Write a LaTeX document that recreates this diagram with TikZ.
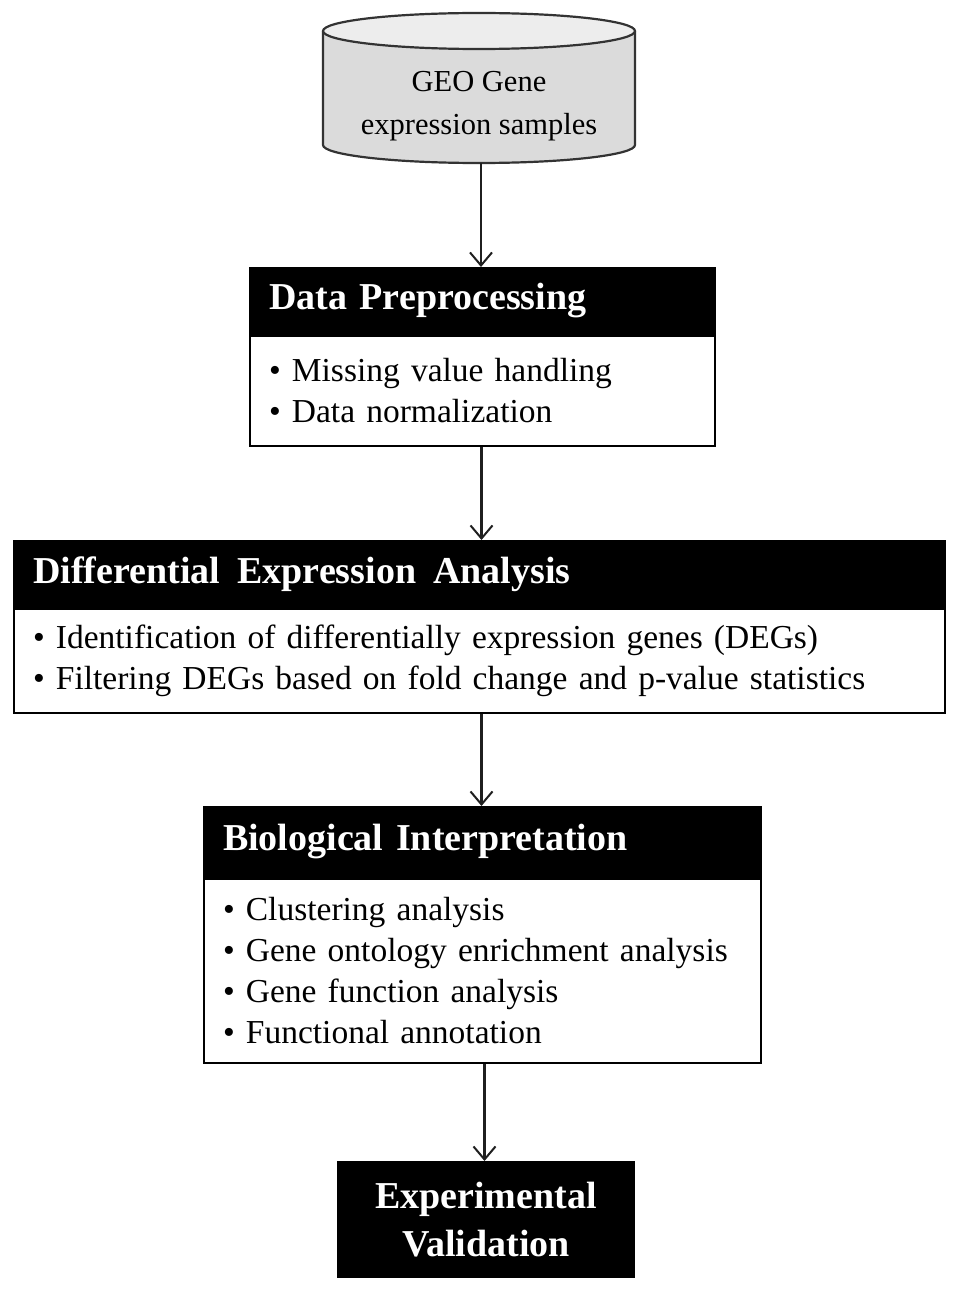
\documentclass[tikz,border=0pt]{standalone}
\usepackage{fontspec}
\setmainfont{Liberation Serif}
\usetikzlibrary{arrows.meta,positioning}
\tikzset{
  hdr/.style={draw=black, fill=black, line width=2pt, text=white, inner xsep=19pt, inner ysep=0pt,
    align=left, anchor=north west, font=\fontsize{38}{44}\selectfont\bfseries},
  bodybox/.style={draw=black, fill=white, line width=2pt, inner xsep=19pt, inner ysep=0pt,
    align=left, anchor=north west, font=\fontsize{33.5}{41}\selectfont},
  arr/.style={line width=2.2pt, draw=black!88, -{Straight Barb[length=13pt,width=22pt,line width=2pt]}},
  cyl/.style={draw=black!80, line width=2.2pt}
}
\begin{document}
\begin{tikzpicture}[x=1pt,y=-1pt]
\useasboundingbox[fill=white] (0,0) rectangle (959,1292);
% cylinder
\fill[black!14] (323,31) -- (323,145) arc[start angle=180,end angle=0,x radius=156,y radius=18] -- (635,31) -- cycle;
\draw[cyl] (323,31) -- (323,145) arc[start angle=180,end angle=0,x radius=156,y radius=18] -- (635,31);
\draw[cyl, fill=black!7] (479,31) ellipse[x radius=156, y radius=18];
\node[minimum width=312pt, minimum height=114pt, inner sep=0pt, align=center,
  font=\fontsize{30.5}{43}\selectfont] (geo) at (479,106) {GEO Gene\\expression samples};
% box 1
\node[hdr, text width=427pt, minimum height=66pt] (dp) at (249,267) {Data Preprocessing};
\node[bodybox, text width=427pt, minimum height=110pt] (dpb) at (dp.south west) {\textbullet\ Missing value handling\\\textbullet\ Data normalization};
% box 2
\node[hdr, text width=893pt, minimum height=66pt] (dea) at (13,540) {Differential\hspace{0.12em} Expression\hspace{0.12em} Analysis};
\node[bodybox, text width=893pt, minimum height=104pt] (deab) at (dea.south west) {\textbullet\ Identification of differentially expression genes (DEGs)\\\textbullet\ Filtering DEGs based on fold change and p-value statistics};
% box 3
\node[hdr, text width=519pt, minimum height=70pt] (bi) at (203,806) {Biological Interpretation};
\node[bodybox, text width=519pt, minimum height=184pt] (bib) at (bi.south west) {\textbullet\ Clustering analysis\\\textbullet\ Gene ontology enrichment analysis\\\textbullet\ Gene function analysis\\\textbullet\ Functional annotation};
% box 4
\node[draw=black, fill=black, line width=2pt, text=white, minimum width=296pt, minimum height=115pt,
  inner sep=0pt, align=center, font=\fontsize{38}{48}\selectfont\bfseries] (ev) at (486,1219.5) {Experimental\\Validation};
% arrows
\draw[arr] ([xshift=2pt]geo.south) -- ([xshift=2pt]geo.south |- dp.north);
\draw[arr] ([xshift=-1pt]dpb.south) -- ([xshift=-1pt]dpb.south |- dea.north);
\draw[arr] ([xshift=2pt]deab.south) -- ([xshift=2pt]deab.south |- bi.north);
\draw[arr] ([xshift=2pt]bib.south) -- ([xshift=2pt]bib.south |- ev.north);
\end{tikzpicture}
\end{document}
